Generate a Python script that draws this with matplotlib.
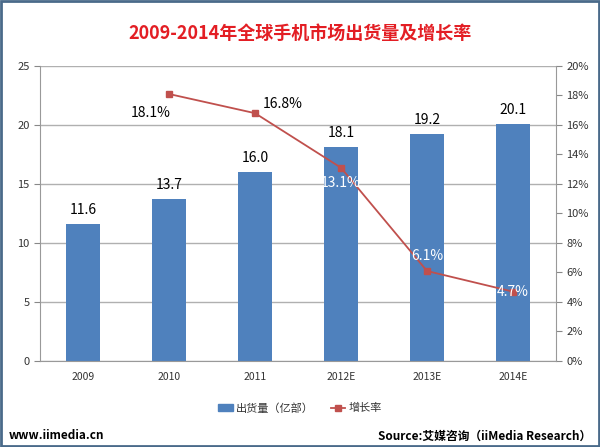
import matplotlib.pyplot as plt
from matplotlib.patches import Rectangle
from matplotlib.lines import Line2D
from matplotlib.ticker import MultipleLocator, FuncFormatter

plt.rcParams['font.family'] = ['Noto Sans CJK SC', 'DejaVu Sans']

years = ["2009", "2010", "2011", "2012E", "2013E", "2014E"]
shipments = [11.6, 13.7, 16.0, 18.1, 19.2, 20.1]
growth_years = [1, 2, 3, 4, 5]
growth = [18.1, 16.8, 13.1, 6.1, 4.7]
# label offsets in pixels (dx, dy) and colour per growth point
growth_offsets = [(-18, -19), (28, 9), (0, -15), (0, 15), (0, 0)]
growth_colors = ["black", "black", "white", "white", "white"]

bar_color = "#4f81bd"
line_color = "#c0504d"
tick_color = "#333333"

fig = plt.figure(figsize=(6, 4.47), dpi=100)
ax = fig.add_axes([0.0667, 0.1924, 0.86, 0.66])
x = range(len(years))
ax.bar(x, shipments, width=0.4, color=bar_color, zorder=2)
ax.set_xlim(-0.5, 5.5)
ax.set_ylim(0, 25)
ax.yaxis.set_major_locator(MultipleLocator(5))
ax.set_xticks(list(x))
ax.set_xticklabels(years)
ax.tick_params(axis='x', length=0, labelsize=7.5, pad=8, labelcolor=tick_color)
ax.tick_params(axis='y', direction='out', length=4, labelsize=8, color='#888888', labelcolor=tick_color)
ax.grid(axis='y', color='#b0b0b0', linewidth=1, zorder=0)
for s in ['top', 'right']:
    ax.spines[s].set_visible(False)
ax.spines['left'].set_color('#999999')
ax.spines['bottom'].set_color('#999999')

for i, v in enumerate(shipments):
    ax.annotate(f"{v:.1f}", (i, v), xytext=(0, 5), textcoords='offset points',
                ha='center', va='bottom', fontsize=10)

ax2 = ax.twinx()
ax2.plot(growth_years, growth, color=line_color, marker='s', markersize=5, linewidth=1.3, zorder=3)
ax2.set_ylim(0, 20)
ax2.yaxis.set_major_locator(MultipleLocator(2))
ax2.yaxis.set_major_formatter(FuncFormatter(lambda v, p: f"{v:.0f}%"))
ax2.tick_params(axis='y', direction='out', length=4, labelsize=8, color='#888888', labelcolor=tick_color)
for s in ['top', 'left', 'bottom']:
    ax2.spines[s].set_visible(False)
ax2.spines['right'].set_color('#999999')

for xi, g, (dx, dy), c in zip(growth_years, growth, growth_offsets, growth_colors):
    ax2.annotate(f"{g:.1f}%", (xi, g), xytext=(dx * 0.72, dy * 0.72), textcoords='offset points',
                 ha='center', va='center', fontsize=10, color=c)

fig.text(0.5, 0.926, "2009-2014年全球手机市场出货量及增长率", ha='center', va='center',
         fontsize=13, fontweight='bold', color='#e31e24')

handles = [Rectangle((0, 0), 1, 1, color=bar_color),
           Line2D([0], [0], color=line_color, marker='s', markersize=5, linewidth=1.3)]
fig.legend(handles, ["出货量（亿部）", "增长率"], loc='center', bbox_to_anchor=(0.5, 0.087),
           ncol=2, frameon=False, fontsize=8, handlelength=1.3, handletextpad=0.3,
           columnspacing=1.5, labelcolor=tick_color)

fig.text(0.015, 0.025, "www.iimedia.cn", ha='left', va='center', fontsize=8.5, fontweight='bold')
fig.text(0.985, 0.025, "Source:艾媒咨询（iiMedia Research）", ha='right', va='center',
         fontsize=8.5, fontweight='bold')

fig.patches.append(Rectangle((0.002, 0.002), 0.996, 0.996, transform=fig.transFigure,
                             fill=False, edgecolor='#4a6a8a', linewidth=2))

fig.savefig("out.png", dpi=100)
